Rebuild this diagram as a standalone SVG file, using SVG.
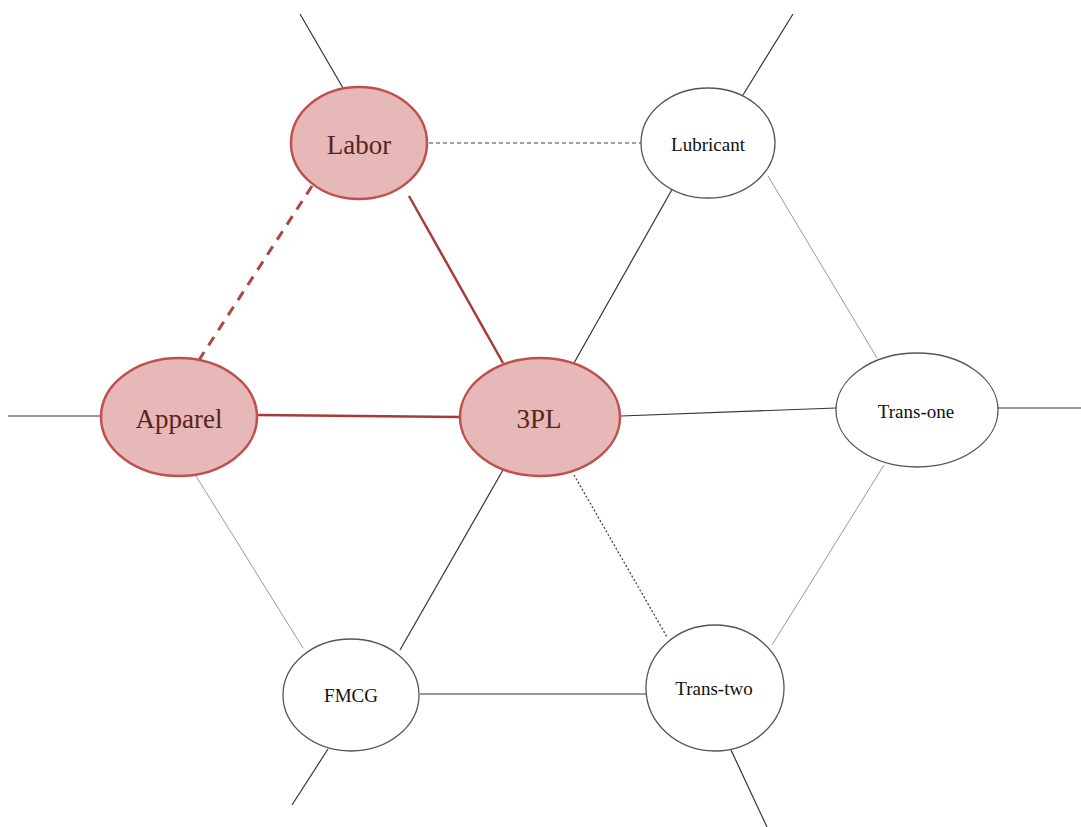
<svg xmlns="http://www.w3.org/2000/svg" width="1081" height="827" viewBox="0 0 1081 827">
<style>
.bg{fill:#ffffff}
.hot ellipse{fill:#e6b8b7;stroke:#c0504d;stroke-width:2.5}
.cold ellipse{fill:#ffffff;stroke:#555555;stroke-width:1.3}
.hot text{font-family:"Liberation Serif",serif;font-size:27px;fill:#5a2320;text-anchor:middle;dominant-baseline:central}
.cold text{font-family:"Liberation Serif",serif;font-size:19px;fill:#111111;text-anchor:middle;dominant-baseline:central}
.e{stroke:#333333;stroke-width:1.2;fill:none}
.lt{stroke:#999999;stroke-width:1}
.dg{stroke:#444444;stroke-width:1.1;stroke-dasharray:4 3}
.dt{stroke:#444444;stroke-width:1.3;stroke-dasharray:2 2}
.r{stroke:#a83a3a;stroke-width:2.5}
.rd{stroke:#b04545;stroke-width:3;stroke-dasharray:10 8}
</style>
<rect class="bg" width="1081" height="827"/>
<g id="connectors">
<line class="e" x1="300" y1="14" x2="343" y2="88"/>
<line class="e" x1="793" y1="14" x2="743" y2="95"/>
<line class="e" x1="8" y1="416" x2="101" y2="416"/>
<line class="e" x1="998" y1="408" x2="1081" y2="408"/>
<line class="e" x1="292" y1="805" x2="328" y2="749"/>
<line class="e" x1="731" y1="750" x2="767" y2="827"/>
<line class="e dg" x1="429" y1="143" x2="641" y2="143"/>
<line class="e rd" x1="312" y1="186" x2="199" y2="360"/>
<line class="e r" x1="409" y1="196" x2="503" y2="363"/>
<line class="e r" x1="258" y1="415" x2="460" y2="417"/>
<line class="e" x1="574" y1="363" x2="674" y2="186"/>
<line class="e lt" x1="768" y1="176" x2="877" y2="358"/>
<line class="e" x1="621" y1="416" x2="836" y2="408"/>
<line class="e lt" x1="196" y1="476" x2="303" y2="648"/>
<line class="e" x1="503" y1="470" x2="400" y2="650"/>
<line class="e dt" x1="574" y1="475" x2="667" y2="637"/>
<line class="e lt" x1="884" y1="465" x2="772" y2="645"/>
<line class="e" x1="420" y1="694" x2="646" y2="694"/>
</g>
<g id="node-labor" class="hot"><ellipse cx="359" cy="143" rx="68" ry="56"/><text x="359" y="145">Labor</text></g>
<g id="node-apparel" class="hot"><ellipse cx="179" cy="417" rx="78" ry="59"/><text x="179" y="419">Apparel</text></g>
<g id="node-3pl" class="hot"><ellipse cx="540" cy="417" rx="80" ry="59"/><text x="539" y="419">3PL</text></g>
<g id="node-lubricant" class="cold"><ellipse cx="708" cy="143" rx="67" ry="55"/><text x="708" y="144">Lubricant</text></g>
<g id="node-transone" class="cold"><ellipse cx="917" cy="410" rx="81" ry="57"/><text x="916" y="411">Trans-one</text></g>
<g id="node-fmcg" class="cold"><ellipse cx="351" cy="695" rx="68" ry="56"/><text x="351" y="695">FMCG</text></g>
<g id="node-transtwo" class="cold"><ellipse cx="715" cy="688" rx="69" ry="63"/><text x="714" y="688">Trans-two</text></g>
</svg>
